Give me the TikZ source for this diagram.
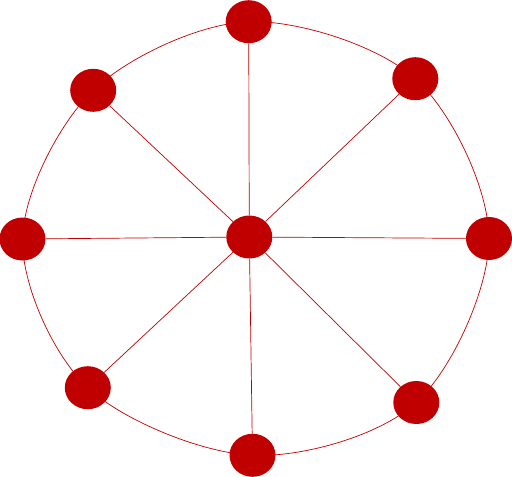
\documentclass[tikz,border=0pt]{standalone}
\usetikzlibrary{shapes.geometric}
\definecolor{dotred}{HTML}{C00000}
\begin{document}
\begin{tikzpicture}[x=1pt,y=-1pt,
  dot/.style={ellipse,fill=dotred,draw=none,minimum width=46pt,minimum height=43pt,inner sep=0pt},
  spoke/.style={draw=dotred,line width=0.7pt}]
\useasboundingbox (0,0) rectangle (512,477);
\coordinate (pc) at (249.3,237);
\coordinate (pn) at (248.7,21.7);
\coordinate (pne) at (415.3,78.7);
\coordinate (pe) at (489,238.5);
\coordinate (pse) at (416.3,402.5);
\coordinate (ps) at (252.5,455.3);
\coordinate (psw) at (87.8,387.7);
\coordinate (pw) at (22.5,239);
\coordinate (pnw) at (93.2,90.3);
\draw[spoke] plot[smooth cycle,tension=0.55] coordinates {(248.7,21.7) (415.3,78.7) (489,238.5) (416.3,402.5) (252.5,455.3) (87.8,387.7) (22.5,239) (93.2,90.3)};
\node[dot] (c) at (pc) {};
\node[dot] (n) at (pn) {};
\node[dot] (ne) at (pne) {};
\node[dot] (e) at (pe) {};
\node[dot] (se) at (pse) {};
\node[dot] (s) at (ps) {};
\node[dot] (sw) at (psw) {};
\node[dot] (w) at (pw) {};
\node[dot] (nw) at (pnw) {};
\foreach \t in {n,ne,e,se,s,sw,w,nw}{\draw[spoke] (c) -- (\t);}
\end{tikzpicture}
\end{document}
